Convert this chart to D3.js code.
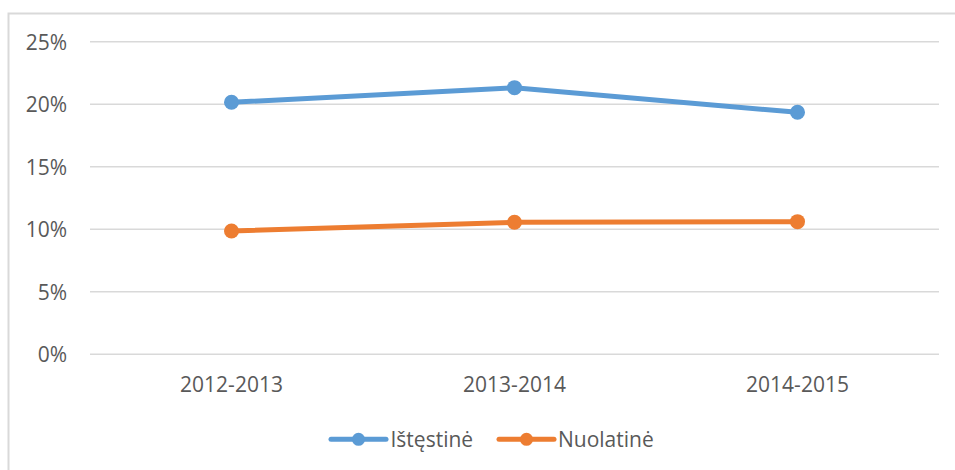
<!DOCTYPE html>
<html>
<head>
<meta charset="utf-8">
<script src="https://cdn.jsdelivr.net/npm/d3@7"></script>
<style>
  html, body { margin: 0; padding: 0; background: #fff; }
  svg { display: block; font-family: "Open Sans", sans-serif; }
</style>
</head>
<body>
<svg id="chart" width="955" height="470"></svg>
<script>
const categories = ["2012-2013", "2013-2014", "2014-2015"];
const seriesNames = ["Ištęstinė", "Nuolatinė"];
const istestine = [0.2016, 0.2133, 0.1936];
const nuolatine = [0.0986, 0.1056, 0.1061];
const yTicks = [0, 0.05, 0.10, 0.15, 0.20, 0.25];
const colors = ["#5B9BD5", "#ED7D31"];

const series = [
  { name: seriesNames[0], values: istestine, color: colors[0] },
  { name: seriesNames[1], values: nuolatine, color: colors[1] }
];

const svg = d3.select("#chart");
const textColor = "#595959";
const gridColor = "#D9D9D9";

// border (left + top visible)
svg.append("path")
  .attr("d", "M8.5,470 V13.5 H955")
  .attr("fill", "none")
  .attr("stroke", gridColor)
  .attr("stroke-width", 2);

const x = d3.scaleBand().domain(categories).range([90, 939]);
const y = d3.scaleLinear().domain([0, 0.25]).range([354.3, 41.8]);
const cx = d => x(d) + x.bandwidth() / 2;

// gridlines
svg.append("g").selectAll("line").data(yTicks).join("line")
  .attr("x1", 90).attr("x2", 939)
  .attr("y1", d => y(d)).attr("y2", d => y(d))
  .attr("stroke", gridColor).attr("stroke-width", 1.5);

// y axis labels
const yAxis = d3.axisLeft(y).tickValues(yTicks).tickFormat(d3.format(".0%")).tickSize(0).tickPadding(0);
const yg = svg.append("g").attr("transform", "translate(67,0)").call(yAxis);
yg.select(".domain").remove();
yg.selectAll("text").attr("fill", textColor).style("font-size", "21px")
  .style("font-family", "'Open Sans', sans-serif").attr("dy", "0.35em");

// x axis labels
const xAxis = d3.axisBottom(x).tickSize(0).tickPadding(0);
const xg = svg.append("g").attr("transform", "translate(0,377)").call(xAxis);
xg.select(".domain").remove();
xg.selectAll("text").attr("fill", textColor).style("font-size", "21px")
  .style("font-family", "'Open Sans', sans-serif").attr("dy", "0.71em");

// lines
const line = d3.line().x((d, i) => cx(categories[i])).y(d => y(d));
series.forEach(s => {
  svg.append("path")
    .datum(s.values)
    .attr("d", line)
    .attr("fill", "none")
    .attr("stroke", s.color)
    .attr("stroke-width", 5)
    .attr("stroke-linejoin", "round")
    .attr("stroke-linecap", "round");
  svg.append("g").selectAll("circle").data(s.values).join("circle")
    .attr("cx", (d, i) => cx(categories[i]))
    .attr("cy", d => y(d))
    .attr("r", 7.5)
    .attr("fill", s.color);
});

// legend
const legendItems = [
  { x1: 331, x2: 386, mx: 358.5, tx: 390.5 },
  { x1: 499, x2: 554, mx: 526.5, tx: 558 }
];
const ly = 439.3;
series.forEach((s, i) => {
  const li = legendItems[i];
  const g = svg.append("g");
  g.append("line").attr("x1", li.x1).attr("x2", li.x2).attr("y1", ly).attr("y2", ly)
    .attr("stroke", s.color).attr("stroke-width", 5).attr("stroke-linecap", "round");
  g.append("circle").attr("cx", li.mx).attr("cy", ly).attr("r", 6.5).attr("fill", s.color);
  g.append("text").attr("x", li.tx).attr("y", ly).attr("dy", "0.35em")
    .attr("fill", textColor).style("font-size", "21px").text(s.name);
});
</script>
</body>
</html>
